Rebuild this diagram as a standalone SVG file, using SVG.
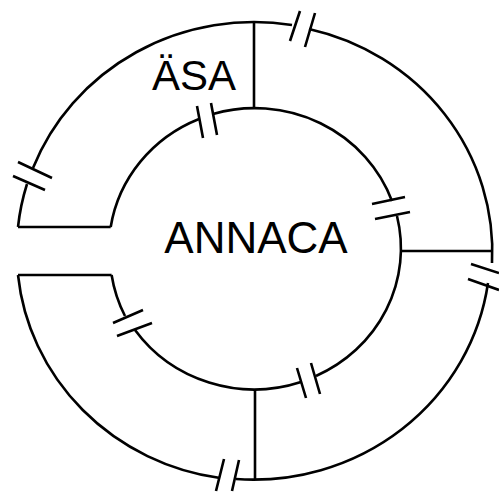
<svg xmlns="http://www.w3.org/2000/svg" width="499" height="492" viewBox="0 0 499 492">
<style>
.ln{fill:none;stroke:#000;stroke-width:2.6;stroke-linecap:butt;stroke-linejoin:miter}
.t{font-family:"Liberation Sans",Arial,sans-serif;fill:#000}
</style>
<rect width="499" height="492" fill="#fff"/>
<g id="outer-ring" class="ln">
<path d="M18,227 A237,228.5 0 0 1 27,184"/>
<path d="M33,168 A237,228.5 0 0 1 292,25"/>
<path d="M309,29 A237,228.5 0 0 1 492,263"/>
<path d="M488,283 A237,228.5 0 0 1 236,479"/>
<path d="M220,478 A237,228.5 0 0 1 18,275"/>
</g>
<g id="inner-ring" class="ln">
<path d="M110.7,227 A146,140.5 0 0 1 199,119"/>
<path d="M213,114 A146,140.5 0 0 1 392,201"/>
<path d="M397,216 A146,140.5 0 0 1 316,376"/>
<path d="M301,382 A146,140.5 0 0 1 135,330"/>
<path d="M125,316 A146,140.5 0 0 1 111.6,275"/>
</g>
<g id="connectors" class="ln">
<path d="M18,227 H110.7"/>
<path d="M18,275 H111.6"/>
<path d="M254,23 V108"/>
<path d="M401,251 H491"/>
<path d="M255,389 V480"/>
</g>
<g id="breaks" class="ln">
<path d="M300,11 L290,41 M315,13 L305,47"/>
<path d="M18,162 L52,178 M13,176 L45,190"/>
<path d="M471,264 L499,273 M468,279 L499,290"/>
<path d="M224,459 L216,491 M239,460 L232,491"/>
<path d="M197,106 L203,138 M211,103 L217,135"/>
<path d="M372,204 L405,197 M375,219 L410,212"/>
<path d="M113,323 L143,310 M117,336 L152,323"/>
<path d="M297,368 L306,398 M311,363 L320,394"/>
</g>
<g id="label-asa"><text class="t" x="194" y="90" font-size="42" text-anchor="middle">ÄSA</text></g>
<g id="label-annaca"><text class="t" x="256" y="253" font-size="44" text-anchor="middle">ANNACA</text></g>
</svg>
